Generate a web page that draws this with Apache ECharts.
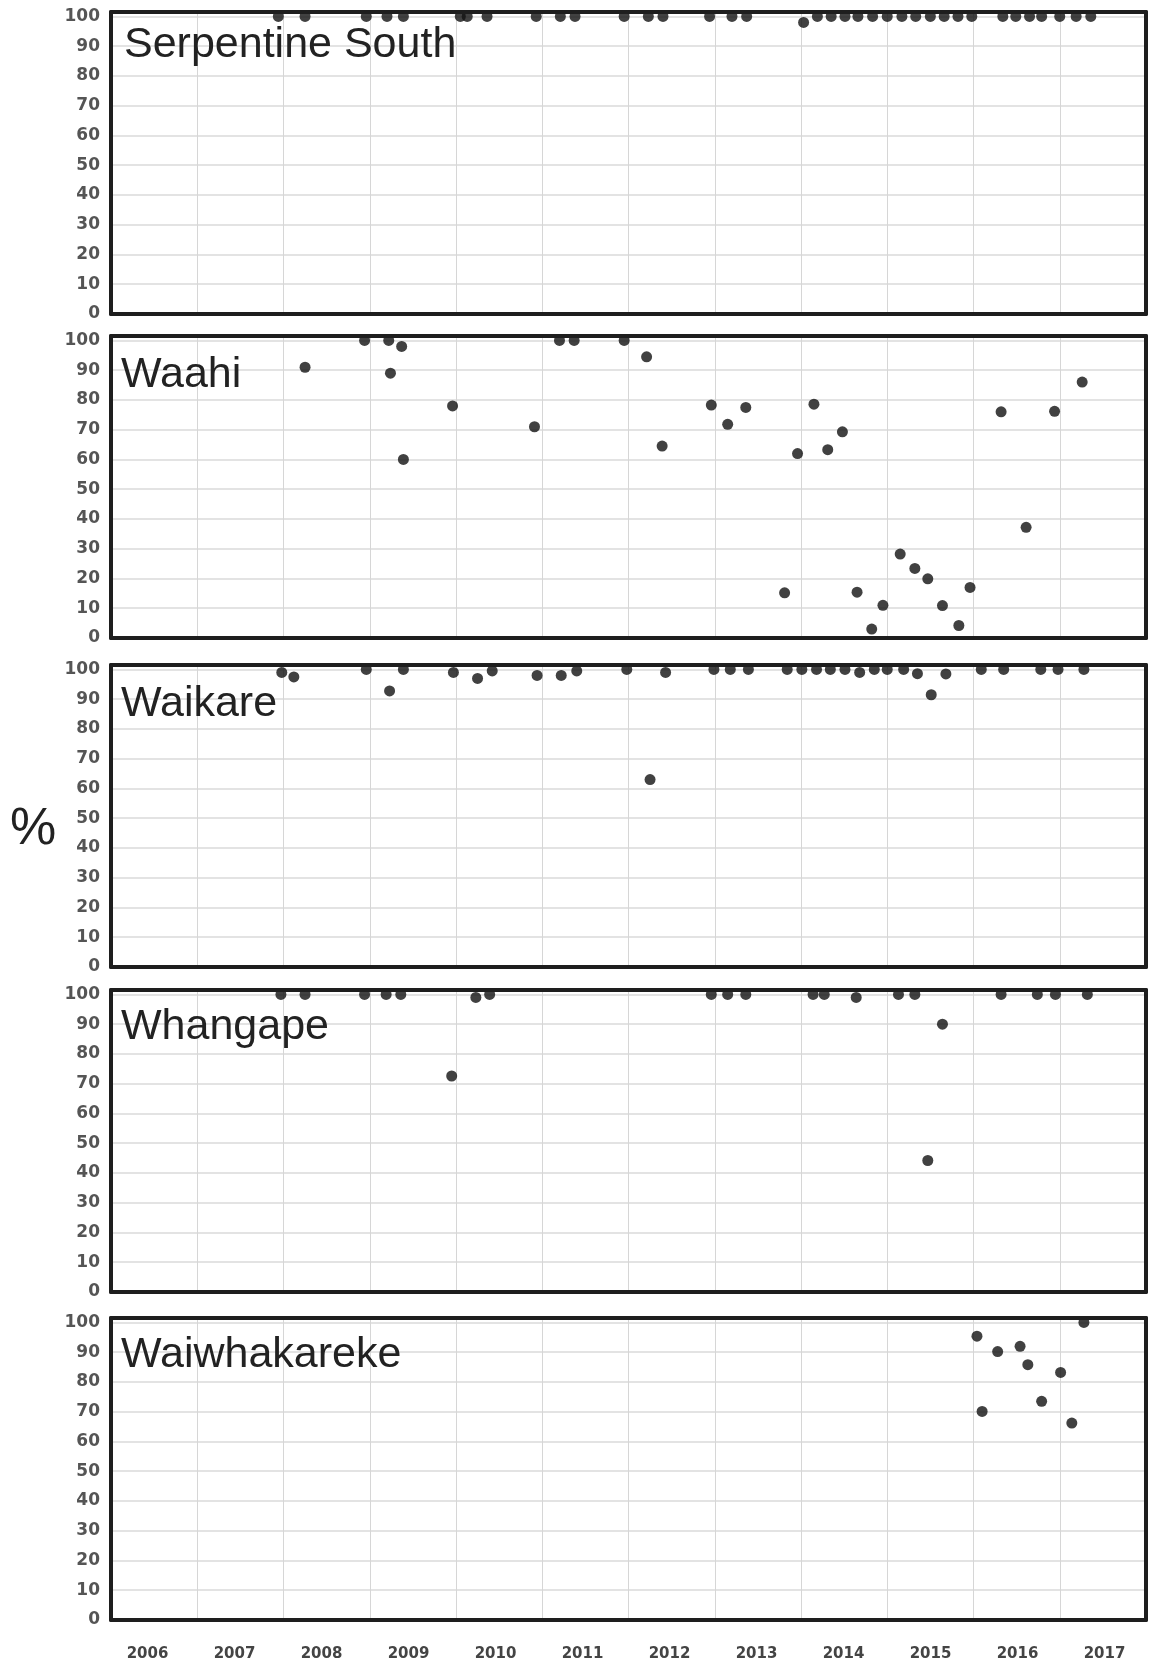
<!DOCTYPE html>
<html>
<head>
<meta charset="utf-8">
<script src="https://cdn.jsdelivr.net/npm/echarts@6/dist/echarts.min.js"></script>
<style>
html,body{margin:0;padding:0;background:#fff;}
#chart{width:1149px;height:1667px;}
</style>
</head>
<body>
<div id="chart"></div>
<script>
// ---- data (decimal year, percent) ----
const siteNames = ['Serpentine South', 'Waahi', 'Waikare', 'Whangape', 'Waiwhakareke'];
const yearLabels = ['2006','2007','2008','2009','2010','2011','2012','2013','2014','2015','2016','2017'];
const yTickLabels = [0,10,20,30,40,50,60,70,80,90,100];

const serpYears = [2007.94,2008.25,2008.96,2009.20,2009.39,2010.05,2010.13,2010.36,2010.93,2011.21,2011.38,2011.95,2012.23,2012.40,2012.94,2013.20,2013.37,2014.03,2014.19,2014.35,2014.51,2014.66,2014.83,2015.00,2015.17,2015.33,2015.50,2015.66,2015.82,2015.98,2016.34,2016.49,2016.65,2016.79,2017.00,2017.19,2017.36];
const serpValues = [100,100,100,100,100,100,100,100,100,100,100,100,100,100,100,100,100,98,100,100,100,100,100,100,100,100,100,100,100,100,100,100,100,100,100,100,100];

const waahiYears = [2008.25,2008.94,2009.22,2009.24,2009.37,2009.39,2009.96,2010.91,2011.20,2011.37,2011.95,2012.21,2012.39,2012.96,2013.15,2013.36,2013.81,2013.96,2014.15,2014.31,2014.48,2014.65,2014.82,2014.95,2015.15,2015.32,2015.47,2015.64,2015.83,2015.96,2016.32,2016.61,2016.94,2017.26];
const waahiValues = [91,100,100,89,98,60,78,71,100,100,100,94.5,64.5,78.3,71.8,77.5,15.2,62,78.6,63.3,69.3,15.4,3,11,28.2,23.4,19.9,10.9,4.2,17,76,37.2,76.2,86];

const waikareYears = [2007.98,2008.12,2008.96,2009.23,2009.39,2009.97,2010.25,2010.42,2010.94,2011.22,2011.40,2011.98,2012.25,2012.43,2012.99,2013.18,2013.39,2013.84,2014.01,2014.18,2014.34,2014.51,2014.68,2014.85,2015.00,2015.19,2015.35,2015.51,2015.68,2016.09,2016.35,2016.78,2016.98,2017.28];
const waikareValues = [99,97.5,100,92.8,100,99,97,99.5,98,98,99.5,100,63,99,100,100,100,100,100,100,100,100,99,100,100,100,98.6,91.5,98.5,100,100,100,100,100];

const whangapeYears = [2007.97,2008.25,2008.94,2009.19,2009.36,2009.95,2010.23,2010.39,2012.96,2013.15,2013.36,2014.14,2014.27,2014.64,2015.13,2015.32,2015.47,2015.64,2016.32,2016.74,2016.95,2017.32];
const whangapeValues = [100,100,100,100,100,72.6,99,100,100,100,100,100,100,99,100,100,44.2,90,100,100,100,100];

const waiwYears = [2016.04,2016.10,2016.28,2016.54,2016.63,2016.79,2017.01,2017.14,2017.28];
const waiwValues = [95.4,70.1,90.2,92,85.8,73.5,83.2,66.2,100];

const siteYears = [serpYears, waahiYears, waikareYears, whangapeYears, waiwYears];
const siteValues = [serpValues, waahiValues, waikareValues, whangapeValues, waiwValues];

// ---- layout ----
const gridTops = [12, 336, 665, 990, 1318];
const gridHeight = 302;
const titleY = [45, 375, 704, 1027, 1355];
const frameColor = '#1e1e1e';
const frameWidth = 4;

const chart = echarts.init(document.getElementById('chart'), null, {renderer: 'canvas'});

const grids = [], xAxes = [], yAxes = [], series = [], graphics = [];

siteNames.forEach((name, i) => {
  grids.push({left: 111, right: 3, top: gridTops[i], height: gridHeight});
  const xBottomIdx = xAxes.length;
  xAxes.push({
    gridIndex: i, type: 'value', min: 2006, max: 2018, interval: 1, position: 'bottom',
    axisLine: {show: true, onZero: false, lineStyle: {color: frameColor, width: frameWidth}},
    axisTick: {show: false}, axisLabel: {show: false},
    splitLine: {show: true, lineStyle: {color: '#d6d6d6', width: 1}}
  });
  xAxes.push({
    gridIndex: i, type: 'value', min: 2006, max: 2018, interval: 1, position: 'top', z: 5,
    axisLine: {show: true, onZero: false, lineStyle: {color: frameColor, width: frameWidth}},
    axisTick: {show: false}, axisLabel: {show: false}, splitLine: {show: false}
  });
  const yLeftIdx = yAxes.length;
  yAxes.push({
    gridIndex: i, type: 'value', min: 0, max: 101.5, interval: 10, position: 'left',
    axisLine: {show: true, onZero: false, lineStyle: {color: frameColor, width: frameWidth}},
    axisTick: {show: false},
    axisLabel: {
      show: true, margin: 11, showMaxLabel: false, padding: [10, 0, 0, 0],
      color: '#555', fontFamily: 'DejaVu Sans', fontWeight: 'bold', fontSize: 17,
      formatter: v => (yTickLabels.indexOf(v) >= 0 ? String(v) : '')
    },
    splitLine: {show: true, lineStyle: {color: '#e3e3e3', width: 2}}
  });
  yAxes.push({
    gridIndex: i, type: 'value', min: 0, max: 101.5, position: 'right',
    axisLine: {show: true, onZero: false, lineStyle: {color: frameColor, width: frameWidth}},
    axisTick: {show: false}, axisLabel: {show: false}, splitLine: {show: false}
  });
  series.push({
    name: name, type: 'scatter',
    xAxisIndex: xBottomIdx, yAxisIndex: yLeftIdx,
    symbol: 'circle', symbolSize: 11,
    itemStyle: {color: '#111'},
    data: siteYears[i].map((yr, k) => [yr, siteValues[i][k]]),
    z: 2
  });
  graphics.push({
    type: 'text', x: name === 'Serpentine South' ? 124 : 121, y: titleY[i], z: 10,
    style: {text: name, fill: '#222', fontFamily: 'Liberation Sans', fontSize: 43, verticalAlign: 'middle', align: 'left'}
  });
});

// year labels along the bottom (own grid so label spacing matches the reference)
const lastTop = gridTops[gridTops.length - 1];
grids.push({left: 104, right: 1, top: lastTop, height: gridHeight});
xAxes.push({
  gridIndex: siteNames.length, type: 'category', data: yearLabels, position: 'bottom', boundaryGap: true,
  axisLine: {show: false}, axisTick: {show: false}, splitLine: {show: false},
  axisLabel: {show: true, margin: 27, color: '#444', fontFamily: 'DejaVu Sans', fontWeight: 'bold', fontSize: 15, interval: 0}
});
yAxes.push({
  gridIndex: siteNames.length, type: 'value', min: 0, max: 100, show: false
});

graphics.push({
  type: 'text', x: 33, y: 830, z: 10,
  style: {text: '%', fill: '#222', fontFamily: 'Liberation Sans', fontSize: 52, verticalAlign: 'middle', align: 'center'}
});

chart.setOption({
  backgroundColor: '#ffffff',
  animation: false,
  grid: grids,
  xAxis: xAxes,
  yAxis: yAxes,
  series: series,
  graphic: graphics
});
</script>
</body>
</html>
